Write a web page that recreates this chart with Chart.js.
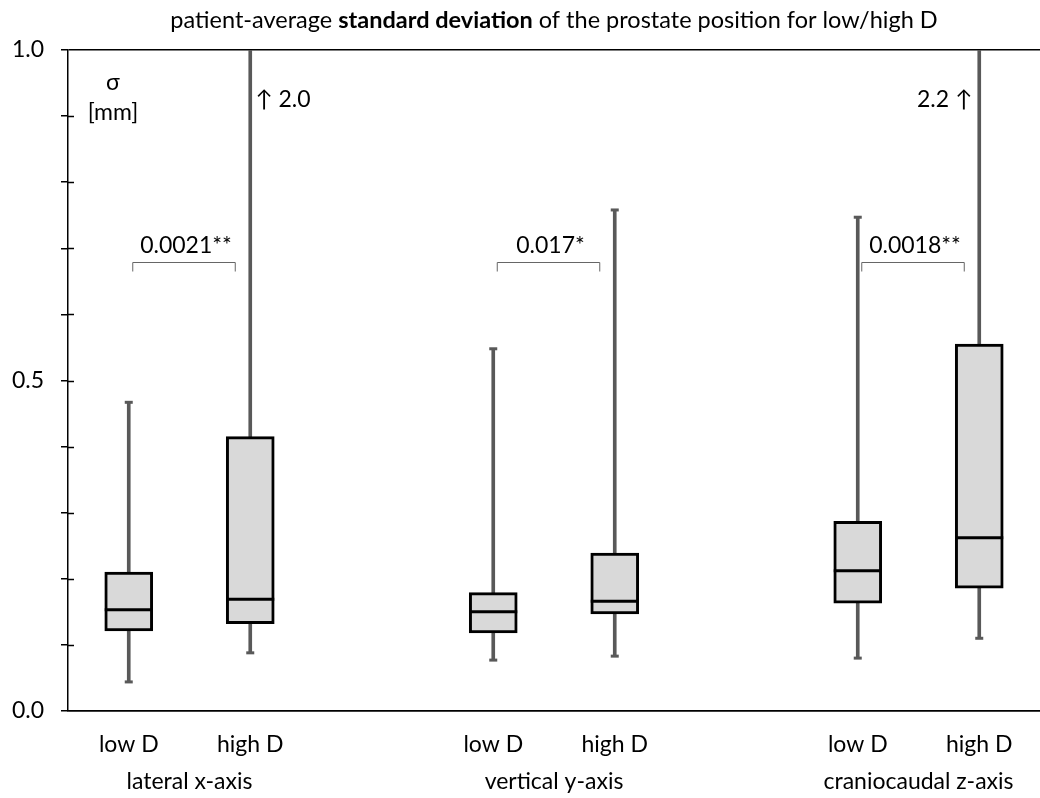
<!DOCTYPE html>
<html>
<head>
<meta charset="utf-8">
<script src="https://cdn.jsdelivr.net/npm/chart.js@4.4.1/dist/chart.umd.min.js"></script>
<style>
  html, body { margin: 0; background: #fff; overflow: hidden; }
  canvas { display: block; }
</style>
</head>
<body>
<canvas id="chart" width="1040" height="798"></canvas>
<script>
const FONT = "Lato, 'Open Sans', sans-serif";
const FS = 23;

// data (sigma in mm)
const categories = ["low D", "high D", "", "low D", "high D", "", "low D", "high D"];
const groupLabels = ["lateral x-axis", "vertical y-axis", "craniocaudal z-axis"];
const groupPairs = [[0, 1], [3, 4], [6, 7]];
const whiskerLow = [0.044, 0.088, null, 0.077, 0.083, null, 0.080, 0.110];
const q1 = [0.121, 0.132, null, 0.118, 0.147, null, 0.163, 0.186];
const median = [0.153, 0.169, null, 0.150, 0.166, null, 0.212, 0.262];
const q3 = [0.210, 0.415, null, 0.179, 0.239, null, 0.287, 0.555];
const whiskerHigh = [0.467, 2.0, null, 0.548, 0.758, null, 0.747, 2.2];
const yLabeledTicks = [0, 0.5, 1.0];
const pValues = ["0.0021**", "0.017*", "0.0018**"];
const pBracketValue = 0.68;
const offScaleNotes = [
  { index: 1, text: "\u2191 2.0", side: "right" },
  { index: 7, text: "2.2 \u2191", side: "left" }
];

const boxes = q1.map((v, i) => v == null ? null : [v, q3[i]]);
const whiskers = whiskerLow.map((v, i) => v == null ? null : [v, whiskerHigh[i]]);

const isLabeled = v => yLabeledTicks.some(t => Math.abs(t - v) < 1e-9);

const extras = {
  id: "extras",
  afterDraw(chart) {
    const { ctx, chartArea, scales: { x, y } } = chart;
    ctx.save();

    // inner half of the minor ticks
    ctx.strokeStyle = "#000";
    ctx.lineWidth = 1.5;
    y.ticks.forEach(t => {
      if (t.value > 0.001 && t.value < 0.999) {
        const py = Math.round(y.getPixelForValue(t.value)) + 0.5;
        ctx.beginPath();
        ctx.moveTo(chartArea.left, py);
        ctx.lineTo(chartArea.left + 6, py);
        ctx.stroke();
      }
    });

    // title with a bold part
    const parts = [
      ["patient-average ", "normal"],
      ["standard deviation", "bold"],
      [" of the prostate position for low/high D", "normal"]
    ];
    const titleFont = w => w + " 23.5px " + FONT;
    ctx.fillStyle = "#000";
    ctx.textBaseline = "middle";
    let total = 0;
    parts.forEach(p => { ctx.font = titleFont(p[1]); total += ctx.measureText(p[0]).width; });
    let tx = (chartArea.left + chartArea.right) / 2 - total / 2;
    parts.forEach(p => {
      ctx.font = titleFont(p[1]);
      ctx.textAlign = "left";
      ctx.fillText(p[0], tx, 20);
      tx += ctx.measureText(p[0]).width;
    });

    ctx.font = FS + "px " + FONT;
    ctx.textAlign = "center";

    // group labels under each pair
    groupPairs.forEach((pair, g) => {
      const cx = (x.getPixelForValue(pair[0]) + x.getPixelForValue(pair[1])) / 2;
      ctx.fillText(groupLabels[g], cx, chartArea.bottom + 71);
    });

    // unit label
    ctx.fillText("\u03c3", chartArea.left + 45, y.getPixelForValue(0.95));
    ctx.fillText("[mm]", chartArea.left + 45, y.getPixelForValue(0.905));

    // significance brackets
    groupPairs.forEach((pair, g) => {
      const x0 = x.getPixelForValue(pair[0]) + 4;
      const x1 = x.getPixelForValue(pair[1]) - 15;
      const py = Math.round(y.getPixelForValue(pBracketValue)) + 0.5;
      ctx.strokeStyle = "#666";
      ctx.lineWidth = 1;
      ctx.beginPath();
      ctx.moveTo(x0, py + 9);
      ctx.lineTo(x0, py);
      ctx.lineTo(x1, py);
      ctx.lineTo(x1, py + 9);
      ctx.stroke();
      ctx.fillStyle = "#000";
      ctx.fillText(pValues[g], (x0 + x1) / 2 + 2, py - 17);
    });

    // values beyond the axis
    offScaleNotes.forEach(n => {
      const px = x.getPixelForValue(n.index);
      const py = y.getPixelForValue(0.925);
      if (n.side === "right") {
        ctx.textAlign = "left";
        ctx.fillText(n.text, px + 5, py);
      } else {
        ctx.textAlign = "right";
        ctx.fillText(n.text, px - 7, py);
      }
    });

    ctx.restore();
  }
};

new Chart(document.getElementById("chart"), {
  type: "bar",
  data: {
    labels: categories,
    datasets: [
      {
        label: "whisker",
        data: whiskers,
        backgroundColor: "#595959",
        barThickness: 3,
        grouped: false,
        order: 3
      },
      {
        label: "box",
        data: boxes,
        backgroundColor: "#d9d9d9",
        borderColor: "#000",
        borderWidth: 3,
        borderSkipped: false,
        barThickness: 48,
        grouped: false,
        order: 2
      },
      {
        type: "line",
        label: "median",
        data: median,
        showLine: false,
        pointStyle: "line",
        pointRadius: 24,
        pointBorderWidth: 3,
        pointBorderColor: "#000",
        order: 1
      },
      {
        type: "line",
        label: "low cap",
        data: whiskerLow,
        showLine: false,
        pointStyle: "line",
        pointRadius: 4,
        pointBorderWidth: 3,
        pointBorderColor: "#595959",
        order: 1
      },
      {
        type: "line",
        label: "high cap",
        data: whiskerHigh,
        showLine: false,
        pointStyle: "line",
        pointRadius: 4,
        pointBorderWidth: 3,
        pointBorderColor: "#595959",
        order: 1
      }
    ]
  },
  options: {
    responsive: false,
    animation: false,
    events: [],
    layout: { autoPadding: false, padding: { top: 50, left: 0, right: 0, bottom: 0 } },
    plugins: {
      legend: { display: false },
      tooltip: { enabled: false }
    },
    scales: {
      x: {
        grid: { display: false, drawTicks: false },
        border: { display: true, color: "#000", width: 1.5 },
        ticks: {
          color: "#000",
          font: { family: FONT, size: FS },
          padding: 20,
          autoSkip: false,
          maxRotation: 0
        },
        afterFit(scale) {
          scale.height = 87;
          scale.paddingLeft = 0;
          scale.paddingRight = 0;
        }
      },
      y: {
        min: 0,
        max: 1,
        grid: {
          drawOnChartArea: true,
          color: c => (c.tick && (Math.abs(c.tick.value) < 1e-9 || Math.abs(c.tick.value - 1) < 1e-9)) ? "#000" : "rgba(0,0,0,0)",
          tickColor: "#000",
          tickLength: 7,
          lineWidth: 1.5
        },
        border: { display: true, color: "#000", width: 1.5 },
        ticks: {
          stepSize: 0.1,
          autoSkip: false,
          color: "#000",
          padding: 17,
          font: { family: FONT, size: FS },
          callback: v => isLabeled(v) ? v.toFixed(1) : ""
        },
        afterFit(scale) {
          scale.width = 68;
          scale.paddingTop = 0;
          scale.paddingBottom = 0;
        }
      }
    }
  },
  plugins: [extras]
});
</script>
</body>
</html>
